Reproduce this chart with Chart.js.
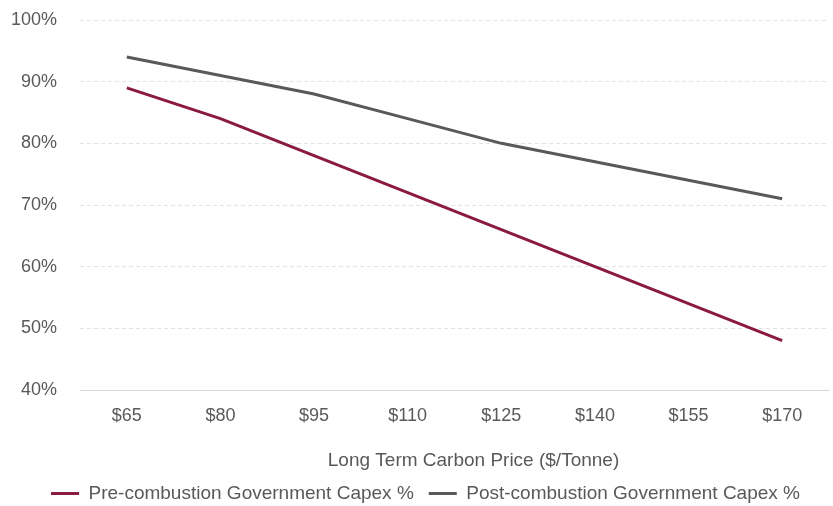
<!DOCTYPE html>
<html>
<head>
<meta charset="utf-8">
<script src="https://cdn.jsdelivr.net/npm/chart.js@4/dist/chart.umd.min.js"></script>
<style>
  html, body { margin: 0; padding: 0; background: #fff; }
  #wrap { width: 833px; height: 506px; position: relative; }
</style>
</head>
<body>
<div id="wrap"><canvas id="c"></canvas></div>
<script>
const categories = ['$65', '$80', '$95', '$110', '$125', '$140', '$155', '$170'];
const preCombustion = [0.89, 0.84, 0.78, 0.72, 0.66, 0.60, 0.54, 0.48];
const postCombustion = [0.94, 0.91, 0.88, 0.84, 0.80, 0.77, 0.74, 0.71];
const seriesNames = ['Pre-combustion Government Capex %', 'Post-combustion Government Capex %'];
const axisTitle = 'Long Term Carbon Price ($/Tonne)';

const FONT = '"Liberation Sans Narrow", "Arial Narrow", "Liberation Sans", sans-serif';
const TEXT = '#595959';

// Draws the x-axis title under the tick labels, a little right of the plot centre
const axisTitlePlugin = {
  id: 'axisTitle',
  afterLayout(chart) {
    // nudge the legend block down and to the right
    const lg = chart.legend;
    if (lg) {
      lg.top += 7; lg.bottom += 7;
      lg.left += 11; lg.right += 11;
    }
  },
  afterDraw(chart) {
    const { ctx, chartArea } = chart;
    ctx.save();
    ctx.font = '19px ' + FONT;
    ctx.fillStyle = TEXT;
    ctx.textAlign = 'center';
    ctx.textBaseline = 'middle';
    ctx.fillText(axisTitle, (chartArea.left + chartArea.right) / 2 + 19, 461);
    ctx.restore();
  }
};

new Chart(document.getElementById('c'), {
  type: 'line',
  data: {
    labels: categories,
    datasets: [
      { label: seriesNames[0], data: preCombustion, borderColor: '#8B1A40', backgroundColor: '#8B1A40',
        borderWidth: 3, pointRadius: 0, tension: 0 },
      { label: seriesNames[1], data: postCombustion, borderColor: '#595959', backgroundColor: '#595959',
        borderWidth: 3, pointRadius: 0, tension: 0 }
    ]
  },
  options: {
    responsive: true,
    maintainAspectRatio: false,
    animation: false,
    layout: { padding: { left: 0, right: 4, top: 20, bottom: 0 } },
    plugins: {
      tooltip: { enabled: false },
      legend: {
        position: 'bottom',
        labels: {
          font: { family: FONT, size: 19 },
          color: TEXT,
          boxWidth: 28,
          boxHeight: 0,
          padding: 15
        }
      }
    },
    scales: {
      x: {
        offset: true,
        afterFit(scale) {
          scale.height = 72;
        },
        grid: { display: false, drawTicks: false },
        border: { display: true, color: '#d9d9d9', width: 1 },
        ticks: { font: { family: FONT, size: 18 }, color: TEXT, padding: 15 }
      },
      y: {
        min: 0.4,
        max: 1.0,
        afterFit(scale) {
          scale.width = 80;
          scale.paddingTop = 0;
          scale.paddingBottom = 0;
        },
        ticks: {
          stepSize: 0.1,
          font: { family: FONT, size: 18 },
          color: TEXT,
          padding: 23,
          callback: v => Math.round(v * 100) + '%'
        },
        grid: { color: '#e3e3e3', drawTicks: false, lineWidth: 1 },
        border: { display: false, dash: ctx => (ctx.tick && Math.abs(ctx.tick.value - 0.4) < 1e-6) ? [] : [4, 3] }
      }
    }
  },
  plugins: [axisTitlePlugin]
});
</script>
</body>
</html>
